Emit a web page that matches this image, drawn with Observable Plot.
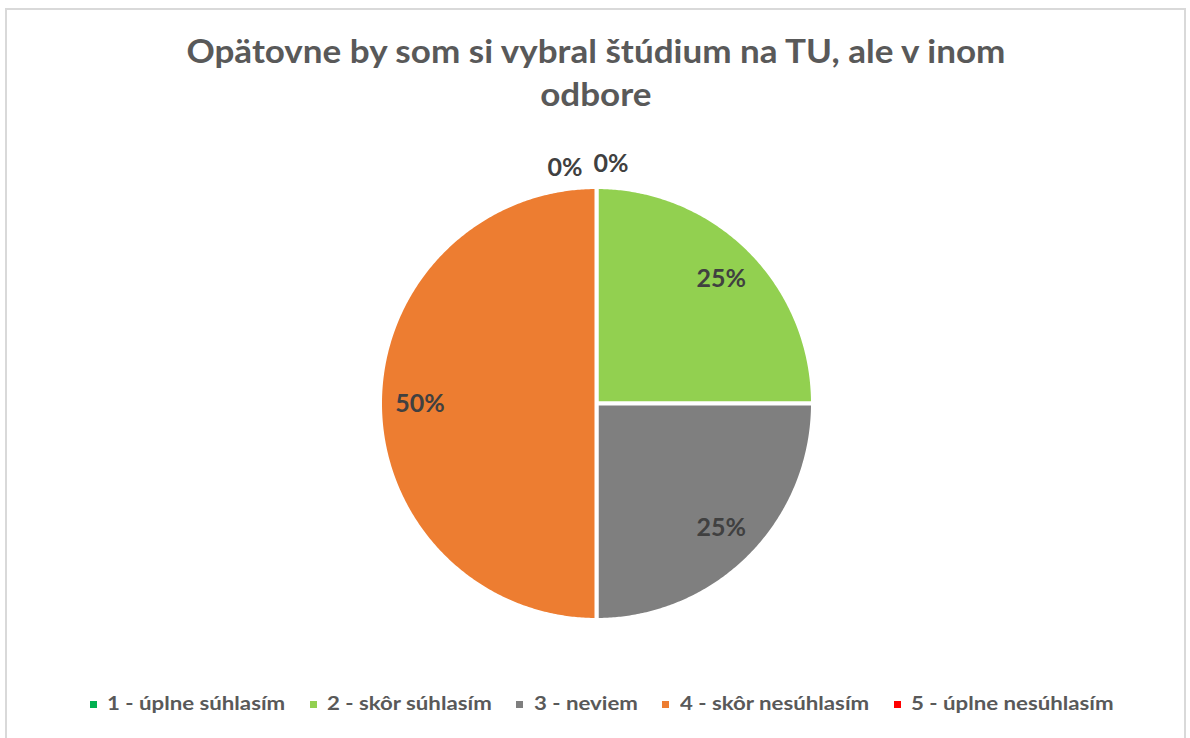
<!DOCTYPE html>
<html>
<head>
<meta charset="utf-8">
<script src="https://cdn.jsdelivr.net/npm/d3@7"></script>
<script src="https://cdn.jsdelivr.net/npm/@observablehq/plot@0.6"></script>
<style>
html, body { margin: 0; padding: 0; background: #fff; }
body { width: 1190px; height: 738px; position: relative; overflow: hidden; font-family: Lato, "Open Sans", sans-serif; }
#frame { position: absolute; left: 5px; top: 8px; width: 1181px; height: 780px; border: 2px solid #d9d9d9; box-sizing: border-box; }
#chart { position: absolute; left: 0; top: 0; }
.tline { position: absolute; left: 0; width: 1192px; text-align: center; font-weight: 700; font-size: 32px; line-height: 1.2; color: #595959; white-space: nowrap; }
.tline span { display: inline-block; transform-origin: 50% 50%; }
#legend { position: absolute; left: 0; top: 0; width: 1190px; height: 738px; }
.lmark { position: absolute; width: 7px; height: 7px; }
.ltext { position: absolute; font-weight: 700; font-size: 19px; line-height: 1.2; color: #595959; white-space: nowrap; transform-origin: 0 50%; }
</style>
</head>
<body>
<div id="frame"></div>
<div class="tline" id="t1" style="top:32px"><span></span></div>
<div class="tline" id="t2" style="top:75px"><span></span></div>
<div id="chart"></div>
<div id="legend"></div>
<script>
// ---- data ----
const titleLines = ["Opätovne by som si vybral štúdium na TU, ale v inom", "odbore"];
const categories = ["1 - úplne súhlasím", "2 - skôr súhlasím", "3 - neviem", "4 - skôr nesúhlasím", "5 - úplne nesúhlasím"];
const values = [0, 25, 25, 50, 0];
const colors = ["#00B050", "#92D050", "#7F7F7F", "#ED7D31", "#FF0000"];

// ---- title ----
const t1 = document.querySelector("#t1 span");
const t2 = document.querySelector("#t2 span");
t1.textContent = titleLines[0];
t2.textContent = titleLines[1];
const tk = 819 / t1.getBoundingClientRect().width;
t1.style.transform = `scaleX(${tk})`;
t2.style.transform = `scaleX(${tk})`;

// ---- pie geometry ----
const total = d3.sum(values);
const arcs = d3.pie().sort(null).value(d => d)(values);
const R = 216.5, cx = 596, cy = 403;

const pts = [];
arcs.forEach((p, i) => {
  const span = p.endAngle - p.startAngle;
  if (span <= 0) return;
  const cat = categories[i];
  const n = Math.max(2, Math.ceil(span / (2 * Math.PI) * 720));
  pts.push({cat, x: 0, y: 0});
  for (let k = 0; k <= n; k++) {
    const a = p.startAngle + span * k / n;
    pts.push({cat, x: Math.sin(a), y: Math.cos(a)});
  }
  pts.push({cat, x: 0, y: 0});
  const a0 = p.startAngle;
  pts.push({cat, x: Math.sin(a0) * 0.001, y: Math.cos(a0) * 0.001});
});

const labelsIn = arcs.filter(p => p.value > 0).map(p => {
  const a = (p.startAngle + p.endAngle) / 2;
  return {x: 0.815 * Math.sin(a), y: 0.815 * Math.cos(a), text: Math.round(p.value / total * 100) + "%"};
});
const zeroLabels = arcs.filter(p => p.value === 0).map(p => {
  const a = (p.startAngle + p.endAngle) / 2;
  return {x: 1.104 * Math.sin(a), y: 1.104 * Math.cos(a), text: Math.round(p.value / total * 100) + "%", right: a < Math.PI};
});

const chart = Plot.plot({
  width: 1190,
  height: 738,
  margin: 0,
  style: {background: "transparent", overflow: "visible"},
  x: {domain: [-1, 1], range: [cx - R, cx + R], axis: null},
  y: {domain: [-1, 1], range: [cy + R, cy - R], axis: null},
  color: {domain: categories, range: colors},
  marks: [
    Plot.line(pts, {x: "x", y: "y", z: "cat", fill: "cat", stroke: "white", strokeWidth: 4, strokeLinejoin: "miter", strokeMiterlimit: 4, strokeLinecap: "butt", curve: "linear"}),
    Plot.text(labelsIn, {x: "x", y: "y", text: "text", fill: "#404040", fontSize: 25, fontWeight: 700, fontFamily: "Lato, 'Open Sans', sans-serif"}),
    Plot.text(zeroLabels.filter(d => d.right), {x: "x", y: "y", text: "text", textAnchor: "start", dx: -3, fill: "#404040", fontSize: 25, fontWeight: 700, fontFamily: "Lato, 'Open Sans', sans-serif"}),
    Plot.text(zeroLabels.filter(d => !d.right), {x: "x", y: "y", text: "text", textAnchor: "end", dx: -14, dy: 4, fill: "#404040", fontSize: 25, fontWeight: 700, fontFamily: "Lato, 'Open Sans', sans-serif"})
  ]
});
document.getElementById("chart").appendChild(chart);

// ---- legend ----
const legend = document.getElementById("legend");
const textEls = categories.map(c => {
  const s = document.createElement("span");
  s.className = "ltext";
  s.textContent = c;
  legend.appendChild(s);
  return s;
});
const widths = textEls.map(s => s.getBoundingClientRect().width);
const startX = 89.5, endX = 1113.7, markToText = 17.5, between = 24.5;
const lk = (endX - startX - categories.length * markToText - (categories.length - 1) * between) / d3.sum(widths);
let x = startX;
const midY = 704;
categories.forEach((c, i) => {
  const m = document.createElement("div");
  m.className = "lmark";
  m.style.background = colors[i];
  m.style.left = x + "px";
  m.style.top = (midY - 3.5) + "px";
  legend.appendChild(m);
  const s = textEls[i];
  const h = s.getBoundingClientRect().height;
  s.style.left = (x + markToText) + "px";
  s.style.top = (711 - 0.987 * 19) + "px";
  s.style.transform = `scaleX(${lk})`;
  x += markToText + widths[i] * lk + between;
});
</script>
</body>
</html>
